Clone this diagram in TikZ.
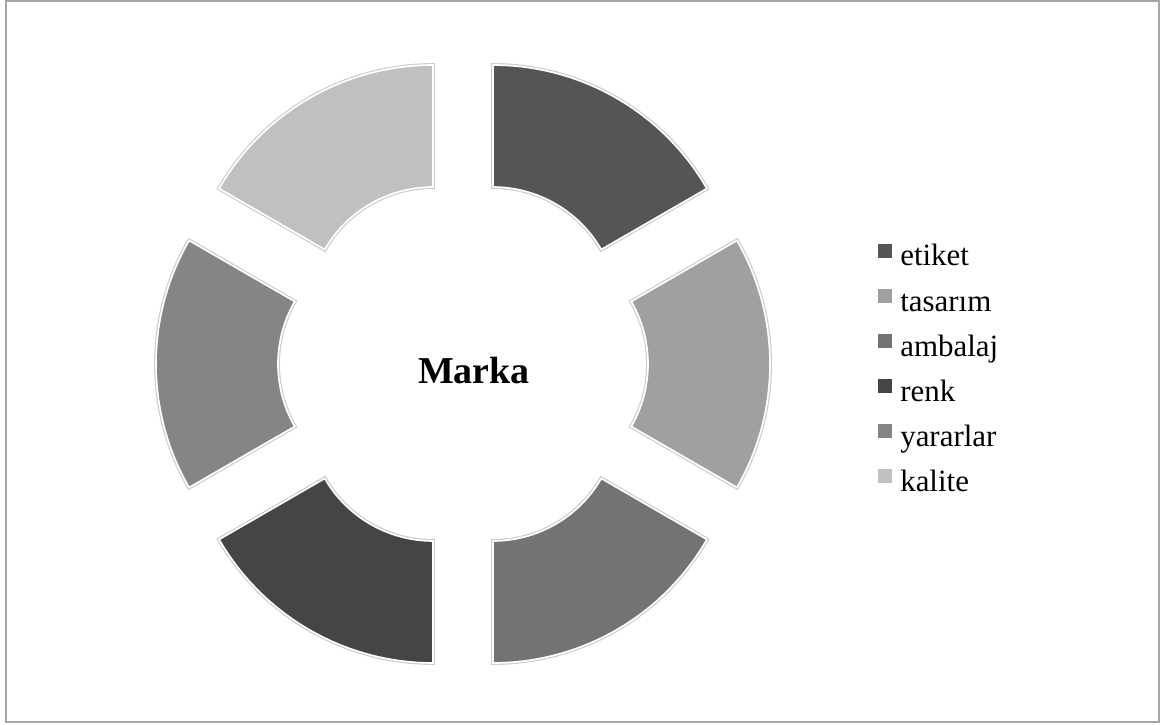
\documentclass[tikz,border=0pt]{standalone}
\usepackage{fontspec}
\setmainfont{Liberation Serif}
\usetikzlibrary{calc,positioning}

\definecolor{cetiket}{HTML}{555555}
\definecolor{ctasarim}{HTML}{A0A0A0}
\definecolor{cambalaj}{HTML}{737373}
\definecolor{crenk}{HTML}{454545}
\definecolor{cyararlar}{HTML}{858585}
\definecolor{ckalite}{HTML}{C0C0C0}
\definecolor{cframe}{HTML}{A6A6A6}

\tikzset{
    frame/.style={draw=cframe, line width=1.8pt},
    segment/.style={draw=white, line width=1.2pt, preaction={draw=black!20, line width=2.8pt}},
    legkey/.style={minimum size=0.35cm, inner sep=0pt},
    legtext/.style={inner sep=0pt, anchor=base west, font=\fontsize{22}{26}\selectfont},
    title/.style={inner sep=0pt, anchor=base, font=\fontsize{27}{32}\selectfont\bfseries}
}

\begin{document}
\begin{tikzpicture}[x=0.025cm, y=0.025cm]
        \useasboundingbox (-463,-360) rectangle (700,364);
        \draw[frame] (-457,363) rectangle (696,-358);

        \foreach \a/\c in {30/cetiket, -30/ctasarim, -90/cambalaj, -150/crenk, -210/cyararlar, -270/ckalite}
        {
            \filldraw[segment, fill=\c] ($(\a+30:60)+(\a:125)$) -- ($(\a+30:60)+(\a:247)$)
                arc[start angle=\a, end angle=\a+60, radius=247]
                -- ($(\a+30:60)+(\a+60:125)$)
                arc[start angle=\a+60, end angle=\a, radius=125] -- cycle;
        }

        \node[title] at (11,-19)(marka){Marka};

        \foreach \n/\c/\t [count=\i from 0] in {etiket/cetiket/etiket, tasarim/ctasarim/tasarım, ambalaj/cambalaj/ambalaj, renk/crenk/renk, yararlar/cyararlar/yararlar, kalite/ckalite/kalite}
        {
            \node[legkey, fill=\c] at (421.5,113-45*\i)(k\n){};
            \node[legtext] at (437,98-45*\i)(l\n){\t};
        }
    \end{tikzpicture}
\end{document}
